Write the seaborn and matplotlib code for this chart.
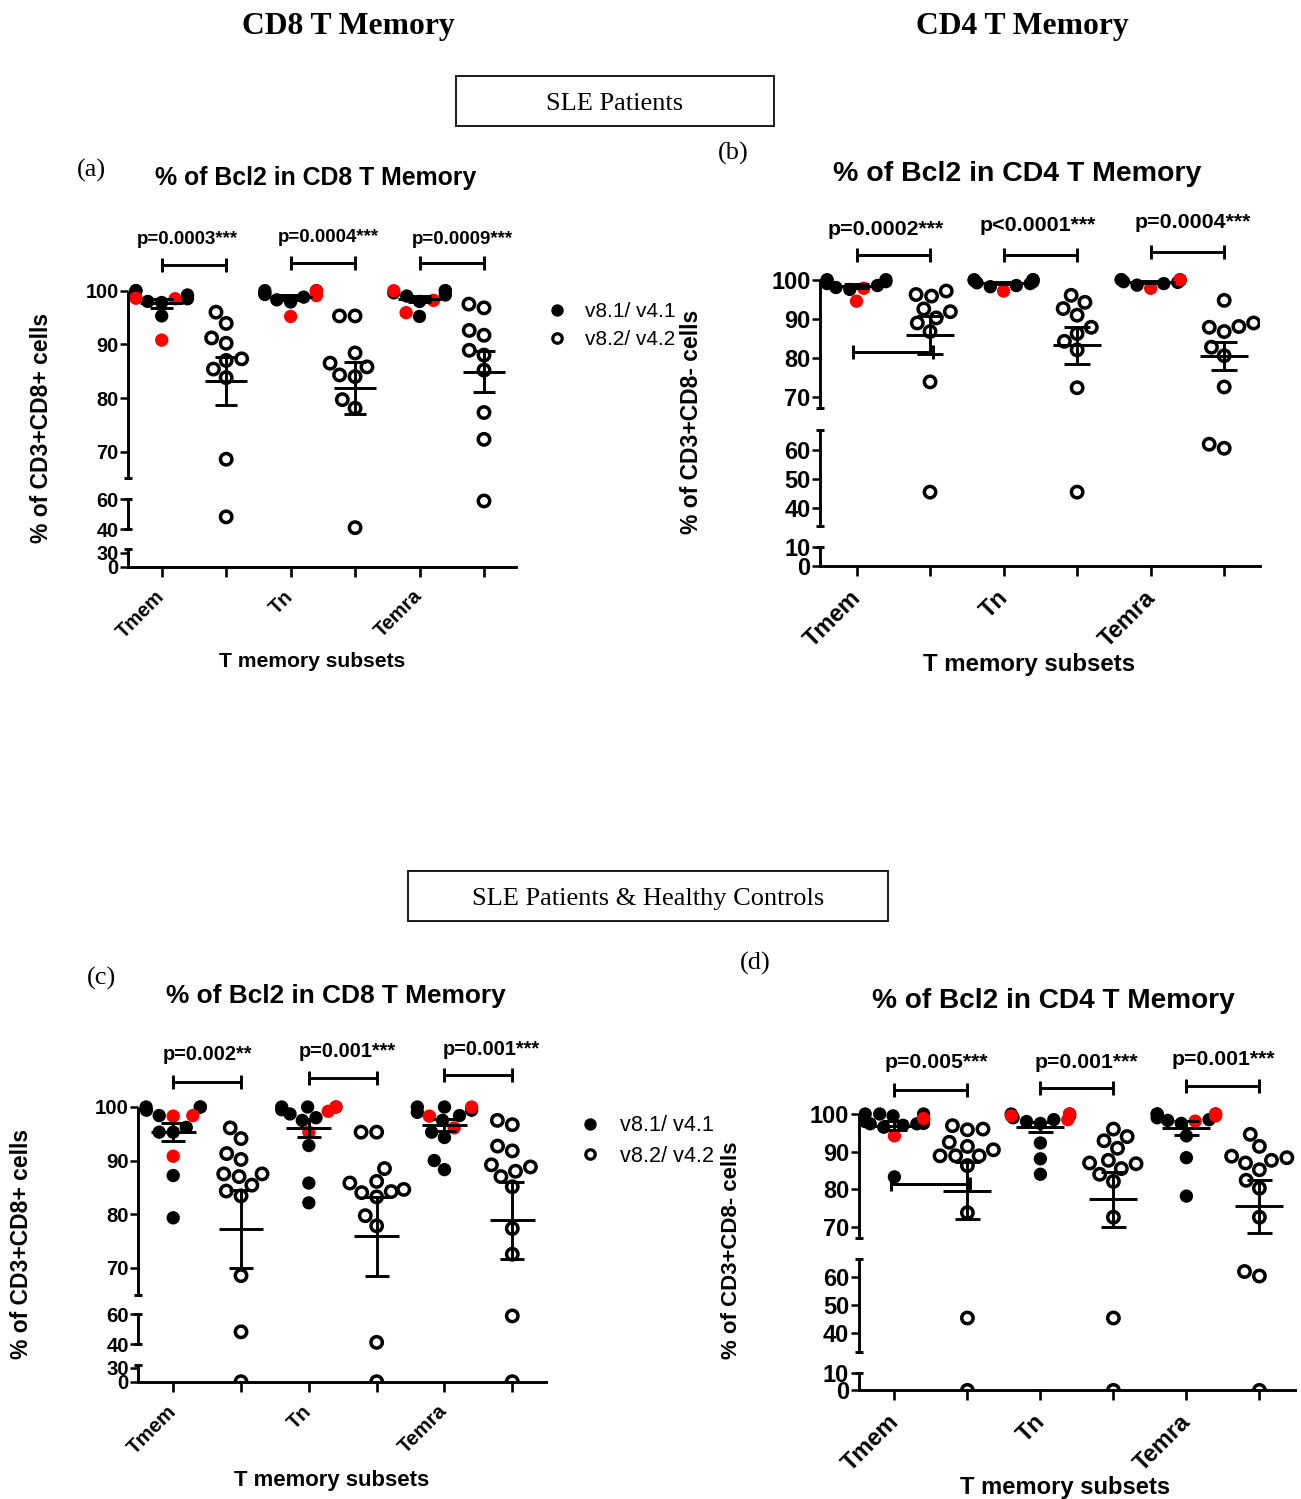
import numpy as np
import pandas as pd
import matplotlib
matplotlib.use("Agg")
import matplotlib.pyplot as plt
import matplotlib.transforms as mtransforms
from matplotlib.lines import Line2D
from matplotlib.patches import Rectangle
import seaborn as sns

# ---------------------------------------------------------------------------
# Data: % of Bcl2+ cells per T memory subset.
# v1 = v8.1/v4.1 (filled dots, "_red" = donors highlighted in red),
# v2 = v8.2/v4.2 (open dots)
# ---------------------------------------------------------------------------
subsets = ["Tmem", "Tn", "Temra"]
legend_labels = ["v8.1/ v4.1", "v8.2/ v4.2"]

# (a) CD8, SLE patients
a_tmem_v1 = [100, 100, 99.2, 98.5, 98.0, 97.8, 95.3]
a_tmem_v1_red = [98.6, 98.5, 90.8]
a_tmem_v2 = [96.0, 93.9, 91.2, 90.2, 87.3, 87.0, 85.4, 83.8, 68.6, 48.3]
a_tn_v1 = [100, 100, 99.6, 99.3, 98.8, 98.3, 97.9]
a_tn_v1_red = [100, 99.1, 95.2]
a_tn_v2 = [95.3, 95.3, 88.4, 86.5, 85.8, 84.3, 84.0, 79.7, 78.1, 41.1]
a_temra_v1 = [100, 100, 99.6, 99.2, 99.0, 98.0, 95.2]
a_temra_v1_red = [100, 98.2, 95.9]
a_temra_v2 = [97.5, 96.8, 92.6, 91.7, 88.9, 88.0, 85.2, 77.3, 72.3, 58.9]
a_pvals = ["p=0.0003***", "p=0.0004***", "p=0.0009***"]

# (b) CD4, SLE patients
b_tmem_v1 = [100, 100, 99.8, 99.5, 99.0, 98.5, 98.0, 97.5]
b_tmem_v1_red = [97.8, 94.5]
b_tmem_v2 = [97.1, 96.2, 95.8, 92.5, 91.8, 90.2, 88.9, 86.7, 73.8, 45.4]
b_tn_v1 = [100, 100, 100, 99.8, 99.5, 99.2, 99.0, 98.5, 98.2]
b_tn_v1_red = [97.1]
b_tn_v2 = [96.0, 94.2, 92.6, 90.9, 87.8, 86.2, 84.2, 82.0, 72.3, 45.4]
b_temra_v1 = [100, 100, 100, 99.8, 99.5, 99.3, 99.0, 98.6]
b_temra_v1_red = [100, 97.8]
b_temra_v2 = [94.7, 88.9, 88.0, 87.8, 86.7, 82.7, 80.5, 72.5, 62.0, 60.6]
b_pvals = ["p=0.0002***", "p<0.0001***", "p=0.0004***"]

# (c) CD8, SLE patients & healthy controls
c_tmem_v1 = [100, 100, 100, 99.4, 98.4, 96.2, 95.3, 95.3, 87.2, 79.3]
c_tmem_v1_red = [98.4, 98.3, 90.8]
c_tmem_v2 = [96.1, 94.1, 91.3, 90.2, 87.5, 87.0, 87.5, 85.4, 84.3, 83.4, 68.5, 48.2, 0]
c_tn_v1 = [100, 100, 100, 99.5, 98.7, 98.0, 97.5, 92.8, 85.8, 82.1]
c_tn_v1_red = [100, 99.2, 95.3]
c_tn_v2 = [95.3, 95.3, 88.5, 86.1, 85.8, 84.6, 84.2, 84.0, 83.2, 79.7, 77.8, 41.1, 0]
c_temra_v1 = [100, 100, 99.4, 99.0, 98.4, 97.5, 95.3, 94.3, 90.0, 88.3]
c_temra_v1_red = [100, 98.3, 96.1]
c_temra_v2 = [97.5, 96.7, 92.7, 91.8, 89.2, 88.8, 88.0, 87.0, 85.1, 77.3, 72.5, 58.9, 0]
c_pvals = ["p=0.002**", "p=0.001***", "p=0.001***"]

# (d) CD4, SLE patients & healthy controls
d_tmem_v1 = [100, 100, 100, 99.5, 98.0, 97.5, 97.4, 97.4, 97.0, 96.5, 83.3]
d_tmem_v1_red = [98.8, 94.2]
d_tmem_v2 = [96.0, 96.9, 95.8, 92.5, 91.4, 90.5, 88.9, 88.9, 88.9, 86.3, 73.8, 45.5, 0]
d_tn_v1 = [100, 100, 99.5, 98.5, 98.0, 97.5, 92.3, 88.1, 84.0, 99.0]
d_tn_v1_red = [100, 98.5, 99.5]
d_tn_v2 = [94.0, 92.9, 90.9, 96.0, 87.7, 86.8, 87.0, 84.0, 85.5, 82.1, 72.6, 45.5, 0]
d_temra_v1 = [100, 100, 100, 98.5, 98.3, 99.0, 97.5, 94.2, 88.4, 78.2]
d_temra_v1_red = [100, 98.1, 99.5]
d_temra_v2 = [94.6, 91.4, 87.7, 88.4, 88.8, 87.0, 85.2, 82.4, 80.3, 72.6, 62.1, 60.5, 0]
d_pvals = ["p=0.005***", "p=0.001***", "p=0.001***"]

cd8_ylabel = "% of CD3+CD8+ cells"
cd4_ylabel = "% of CD3+CD8- cells"
cd8_title = "% of Bcl2 in CD8 T Memory"
cd4_title = "% of Bcl2 in CD4 T Memory"
xlabel = "T memory subsets"

panels = {
    "a": dict(v1=[a_tmem_v1, a_tn_v1, a_temra_v1],
              red=[a_tmem_v1_red, a_tn_v1_red, a_temra_v1_red],
              v2=[a_tmem_v2, a_tn_v2, a_temra_v2], pvals=a_pvals,
              ylabel=cd8_ylabel, title=cd8_title, tag="(a)"),
    "b": dict(v1=[b_tmem_v1, b_tn_v1, b_temra_v1],
              red=[b_tmem_v1_red, b_tn_v1_red, b_temra_v1_red],
              v2=[b_tmem_v2, b_tn_v2, b_temra_v2], pvals=b_pvals,
              ylabel=cd4_ylabel, title=cd4_title, tag="(b)"),
    "c": dict(v1=[c_tmem_v1, c_tn_v1, c_temra_v1],
              red=[c_tmem_v1_red, c_tn_v1_red, c_temra_v1_red],
              v2=[c_tmem_v2, c_tn_v2, c_temra_v2], pvals=c_pvals,
              ylabel=cd8_ylabel, title=cd8_title, tag="(c)"),
    "d": dict(v1=[d_tmem_v1, d_tn_v1, d_temra_v1],
              red=[d_tmem_v1_red, d_tn_v1_red, d_temra_v1_red],
              v2=[d_tmem_v2, d_tn_v2, d_temra_v2], pvals=d_pvals,
              ylabel=cd4_ylabel, title=cd4_title, tag="(d)"),
}

# ---------------------------------------------------------------------------
# Page geometry (pixels on a 1301 x 1499 canvas) and broken-axis layout
# breaks: (value, pixel height above the x axis) for the segmented y scale
# ---------------------------------------------------------------------------
W, H, DPI = 1301, 1499, 100
SANS = ["Liberation Sans", "DejaVu Sans"]
SERIF = ["Liberation Serif", "DejaVu Serif"]
LW = 2.1
YTOP = 118

geom = {
    "a": dict(spine_x=128.3, x_first=161.7, step=64.46, x_end=515.7, base_y=566.7,
              breaks=[(0, 0), (30, 14.0), (37.3, 17.4), (40, 37.4), (60, 67.4),
                      (65.2, 89.2), (70, 115.0), (100, 276.0)],
              segments=[(0, 37.3), (40, 60), (65.2, 100)], caps=[37.3, 40, 60, 65.2],
              yticks=[0, 30, 40, 60, 70, 80, 90, 100],
              tick_fs=14.3, p_fs=13.5, title_fs=17.9, ylabel_fs=16.5, xlabel_fs=15.2,
              title_xy=(315.8, 184.5), ylabel_xy=(41.7, 428.3), xlabel_xy=(312, 667),
              tag_xy=(91, 170), p_x=[0.40, 2.58, 4.66], p_y=[108.7, 109.1, 108.7],
              br_y=[104.7, 105.2, 105.1], extra_bar=None),
    "b": dict(spine_x=820.1, x_first=856.5, step=73.54, x_end=1260.2, base_y=566.0,
              breaks=[(0, 0), (10, 19.3), (33.75, 40.3), (40, 58.3), (60, 116.0),
                      (67.0, 136.2), (67.3, 158.5), (70, 169.3), (100, 286.3)],
              segments=[(0, 10), (33.75, 67.0), (67.3, 100)], caps=[10, 33.75, 67.0, 67.3],
              yticks=[0, 10, 40, 50, 60, 70, 80, 90, 100],
              tick_fs=17.0, p_fs=15.4, title_fs=20.5, ylabel_fs=16.5, xlabel_fs=17.3,
              title_xy=(1016.8, 180.6), ylabel_xy=(691.6, 421.5), xlabel_xy=(1028.8, 671),
              tag_xy=(733.5, 153.7), p_x=[0.40, 2.47, 4.57], p_y=[111.5, 112.4, 113.3],
              br_y=[106.4, 106.4, 107.1], extra_bar=81.5),
    "c": dict(spine_x=138.3, x_first=173.2, step=67.82, x_end=545.5, base_y=1381.7,
              breaks=[(0, 0), (30, 14.0), (37.3, 16.7), (40, 37.7), (60, 67.4),
                      (64.9, 86.8), (70, 114.1), (100, 274.7)],
              segments=[(0, 37.3), (40, 60), (64.9, 100)], caps=[37.3, 40, 60, 64.9],
              yticks=[0, 30, 40, 60, 70, 80, 90, 100],
              tick_fs=14.7, p_fs=14.3, title_fs=18.9, ylabel_fs=16.5, xlabel_fs=15.9,
              title_xy=(335.7, 1003), ylabel_xy=(21.4, 1244), xlabel_xy=(332, 1486),
              tag_xy=(101.7, 978.6), p_x=[0.50, 2.57, 4.69], p_y=[108.7, 109.3, 109.7],
              br_y=[104.7, 105.5, 106.0], extra_bar=None),
    "d": dict(spine_x=858.6, x_first=894.4, step=73.0, x_end=1295.2, base_y=1390.4,
              breaks=[(0, 0), (10, 17.4), (33.3, 38.2), (40, 57.0), (60, 113.0),
                      (66.6, 131.5), (67.2, 152.8), (70, 163.4), (100, 276.4)],
              segments=[(0, 10), (33.3, 66.6), (67.2, 100)], caps=[10, 33.3, 66.6, 67.2],
              yticks=[0, 10, 40, 50, 60, 70, 80, 90, 100],
              tick_fs=17.0, p_fs=15.3, title_fs=20.2, ylabel_fs=16.0, xlabel_fs=17.1,
              title_xy=(1053.4, 1008), ylabel_xy=(731.7, 1250.7), xlabel_xy=(1065.5, 1494),
              tag_xy=(755.7, 963.8), p_x=[0.58, 2.63, 4.50], p_y=[112.2, 112.2, 112.9],
              br_y=[106.5, 106.9, 107.4], extra_bar=81.5),
}


def fx(x):
    return x / W


def fy(y):
    return 1 - y / H


def broken_scale(breaks):
    vals = np.array([b[0] for b in breaks], float)
    pxs = np.array([b[1] for b in breaks], float)
    lo = (pxs[1] - pxs[0]) / (vals[1] - vals[0])
    hi = (pxs[-1] - pxs[-2]) / (vals[-1] - vals[-2])
    vals = np.concatenate([[vals[0] - 1000], vals, [vals[-1] + 1000]])
    pxs = np.concatenate([[pxs[0] - 1000 * lo], pxs, [pxs[-1] + 1000 * hi]])

    def forward(v):
        return np.interp(v, vals, pxs)

    def inverse(p):
        return np.interp(p, pxs, vals)

    return forward, inverse


sns.set_theme(style="ticks")
plt.rcParams["font.family"] = SANS
plt.rcParams.update({
    "axes.linewidth": LW,
    "axes.edgecolor": "black",
    "axes.labelcolor": "black",
    "text.color": "black",
    "xtick.color": "black",
    "ytick.color": "black",
})

fig = plt.figure(figsize=(W / DPI, H / DPI), dpi=DPI)

slots = [f"{s}:{k}" for s in subsets for k in ("v1", "v2")]
label_shift = mtransforms.ScaledTranslation(-7 / DPI, -6 / DPI, fig.dpi_scale_trans)


def draw_panel(key):
    d, g = panels[key], geom[key]
    fwd, inv = broken_scale(g["breaks"])
    top_px = float(fwd(YTOP))
    ax = fig.add_axes([fx(g["spine_x"]), (H - g["base_y"]) / H,
                       (g["x_end"] - g["spine_x"]) / W, top_px / H])
    ax.set_yscale("function", functions=(fwd, inv))

    rows = []
    for s, blk, red, opn in zip(subsets, d["v1"], d["red"], d["v2"]):
        rows += [(f"{s}:v1", v, "black") for v in blk]
        rows += [(f"{s}:v1", v, "red") for v in red]
        rows += [(f"{s}:v2", v, "open") for v in opn]
    df = pd.DataFrame(rows, columns=["slot", "value", "tone"])

    sns.swarmplot(data=df[df.tone != "open"], x="slot", y="value", hue="tone",
                  order=slots, hue_order=["black", "red"],
                  palette={"black": "black", "red": "#ff0000"},
                  size=9.6, linewidth=0, legend=False, ax=ax, zorder=3)
    n_before = len(ax.collections)
    sns.swarmplot(data=df[df.tone == "open"], x="slot", y="value", order=slots,
                  color="white", edgecolor="black", linewidth=2.5, size=8.2,
                  ax=ax, zorder=3)
    for coll in ax.collections[n_before:]:
        coll.set_facecolor("none")

    # mean +/- SEM for every group
    groups = []
    for blk, red, opn in zip(d["v1"], d["red"], d["v2"]):
        groups += [list(blk) + list(red), list(opn)]
    for i, vals in enumerate(groups):
        arr = np.asarray(vals, float)
        m = arr.mean()
        se = arr.std(ddof=1) / np.sqrt(arr.size)
        ax.hlines(m, i - 0.33, i + 0.33, colors="black", lw=LW, zorder=6)
        ax.vlines(i, m - se, m + se, colors="black", lw=LW, zorder=6)
        ax.hlines([m - se, m + se], i - 0.175, i + 0.175, colors="black", lw=LW, zorder=6)

    # significance brackets
    for j, (lab, px_, py_, by) in enumerate(zip(d["pvals"], g["p_x"], g["p_y"], g["br_y"])):
        ax.plot([2 * j, 2 * j + 1], [by, by], color="black", lw=LW, marker="|",
                ms=10.5, mew=LW, clip_on=False, solid_capstyle="butt", zorder=6)
        ax.text(px_, py_, lab, ha="center", va="baseline", fontsize=g["p_fs"],
                fontweight="bold", clip_on=False)
    if g["extra_bar"] is not None:
        ax.plot([-0.05, 1.04], [g["extra_bar"]] * 2, color="black", lw=LW, marker="|",
                ms=10.5, mew=LW, clip_on=False, solid_capstyle="butt", zorder=6)

    # segmented y axis
    sns.despine(ax=ax, left=True)
    bt = mtransforms.blended_transform_factory(ax.transAxes, ax.transData)
    for lo, hi in g["segments"]:
        ax.plot([0, 0], [lo, hi], color="black", lw=LW, transform=bt,
                clip_on=False, solid_capstyle="butt", zorder=5)
    for c in g["caps"]:
        ax.plot([0], [c], marker="_", ms=6, mew=LW, color="black", transform=bt,
                clip_on=False, zorder=5)
    ax.spines["bottom"].set_linewidth(LW)

    ax.set_yticks(g["yticks"], labels=[str(t) for t in g["yticks"]], fontweight="bold")
    ax.set_xticks(range(6), labels=["Tmem", "", "Tn", "", "Temra", ""], rotation=45,
                  ha="right", rotation_mode="anchor", fontweight="bold")
    ax.tick_params(axis="y", direction="out", length=5.8, width=1.8, pad=1.0,
                   labelsize=g["tick_fs"], left=True)
    ax.tick_params(axis="x", direction="out", length=7, width=1.9, pad=3,
                   labelsize=g["tick_fs"], bottom=True)
    for lab in ax.get_xticklabels():
        lab.set_transform(lab.get_transform() + label_shift)
    ax.set_xlim(-(g["x_first"] - g["spine_x"]) / g["step"],
                (g["x_end"] - g["x_first"]) / g["step"])
    ax.set_ylim(0, YTOP)
    ax.patch.set_alpha(0)

    ax.set_xlabel(xlabel, fontsize=g["xlabel_fs"], fontweight="bold")
    ax.xaxis.set_label_coords(fx(g["xlabel_xy"][0]), fy(g["xlabel_xy"][1]),
                              transform=fig.transFigure)
    ax.xaxis.label.set_va("baseline")
    ax.set_ylabel(d["ylabel"], fontsize=g["ylabel_fs"], fontweight="bold")
    ax.yaxis.set_label_coords(fx(g["ylabel_xy"][0]), fy(g["ylabel_xy"][1]),
                              transform=fig.transFigure)
    ax.yaxis.label.set_va("center")
    ax.yaxis.label.set_ha("center")

    fig.text(fx(g["title_xy"][0]), fy(g["title_xy"][1]), d["title"], ha="center",
             va="baseline", fontsize=g["title_fs"], fontweight="bold", family=SANS)
    fig.text(fx(g["tag_xy"][0]), fy(g["tag_xy"][1]), d["tag"], ha="center",
             va="center", fontsize=19, family=SERIF)
    return ax


for k in ("a", "b", "c", "d"):
    draw_panel(k)

# legends
handles = [Line2D([], [], ls="", marker="o", ms=7.9, color="black"),
           Line2D([], [], ls="", marker="o", ms=6.8, mfc="none", mec="black", mew=2.3)]
fig.legend(handles, legend_labels, loc="center left", bbox_to_anchor=(fx(546.6), fy(325.5)),
           frameon=False, fontsize=15, handlelength=1.0, handletextpad=0.85,
           labelspacing=0.45, borderpad=0, borderaxespad=0)
fig.legend(handles, legend_labels, loc="center left", bbox_to_anchor=(fx(579.2), fy(1141)),
           frameon=False, fontsize=15.6, handlelength=1.0, handletextpad=0.88,
           labelspacing=0.45, borderpad=0, borderaxespad=0)

# column headings and group boxes
fig.text(fx(348.3), fy(34.3), "CD8 T Memory", ha="center", va="baseline",
         fontsize=22.8, fontweight="bold", family=SERIF)
fig.text(fx(1022), fy(34.3), "CD4 T Memory", ha="center", va="baseline",
         fontsize=22.8, fontweight="bold", family=SERIF)

for (x0, y0, x1, y1), label in [((456, 76, 774, 126), "SLE Patients"),
                                ((408, 871, 888, 921), "SLE Patients & Healthy Controls")]:
    fig.add_artist(Rectangle((fx(x0), fy(y1)), (x1 - x0) / W, (y1 - y0) / H,
                             transform=fig.transFigure, fill=False, lw=1.4,
                             ec="#1a1a1a"))
    fig.text(fx((x0 + x1) / 2), fy((y0 + y1) / 2), label, ha="center",
             va="center_baseline", fontsize=19, family=SERIF)

fig.savefig("out.png", dpi=DPI, facecolor="white")
